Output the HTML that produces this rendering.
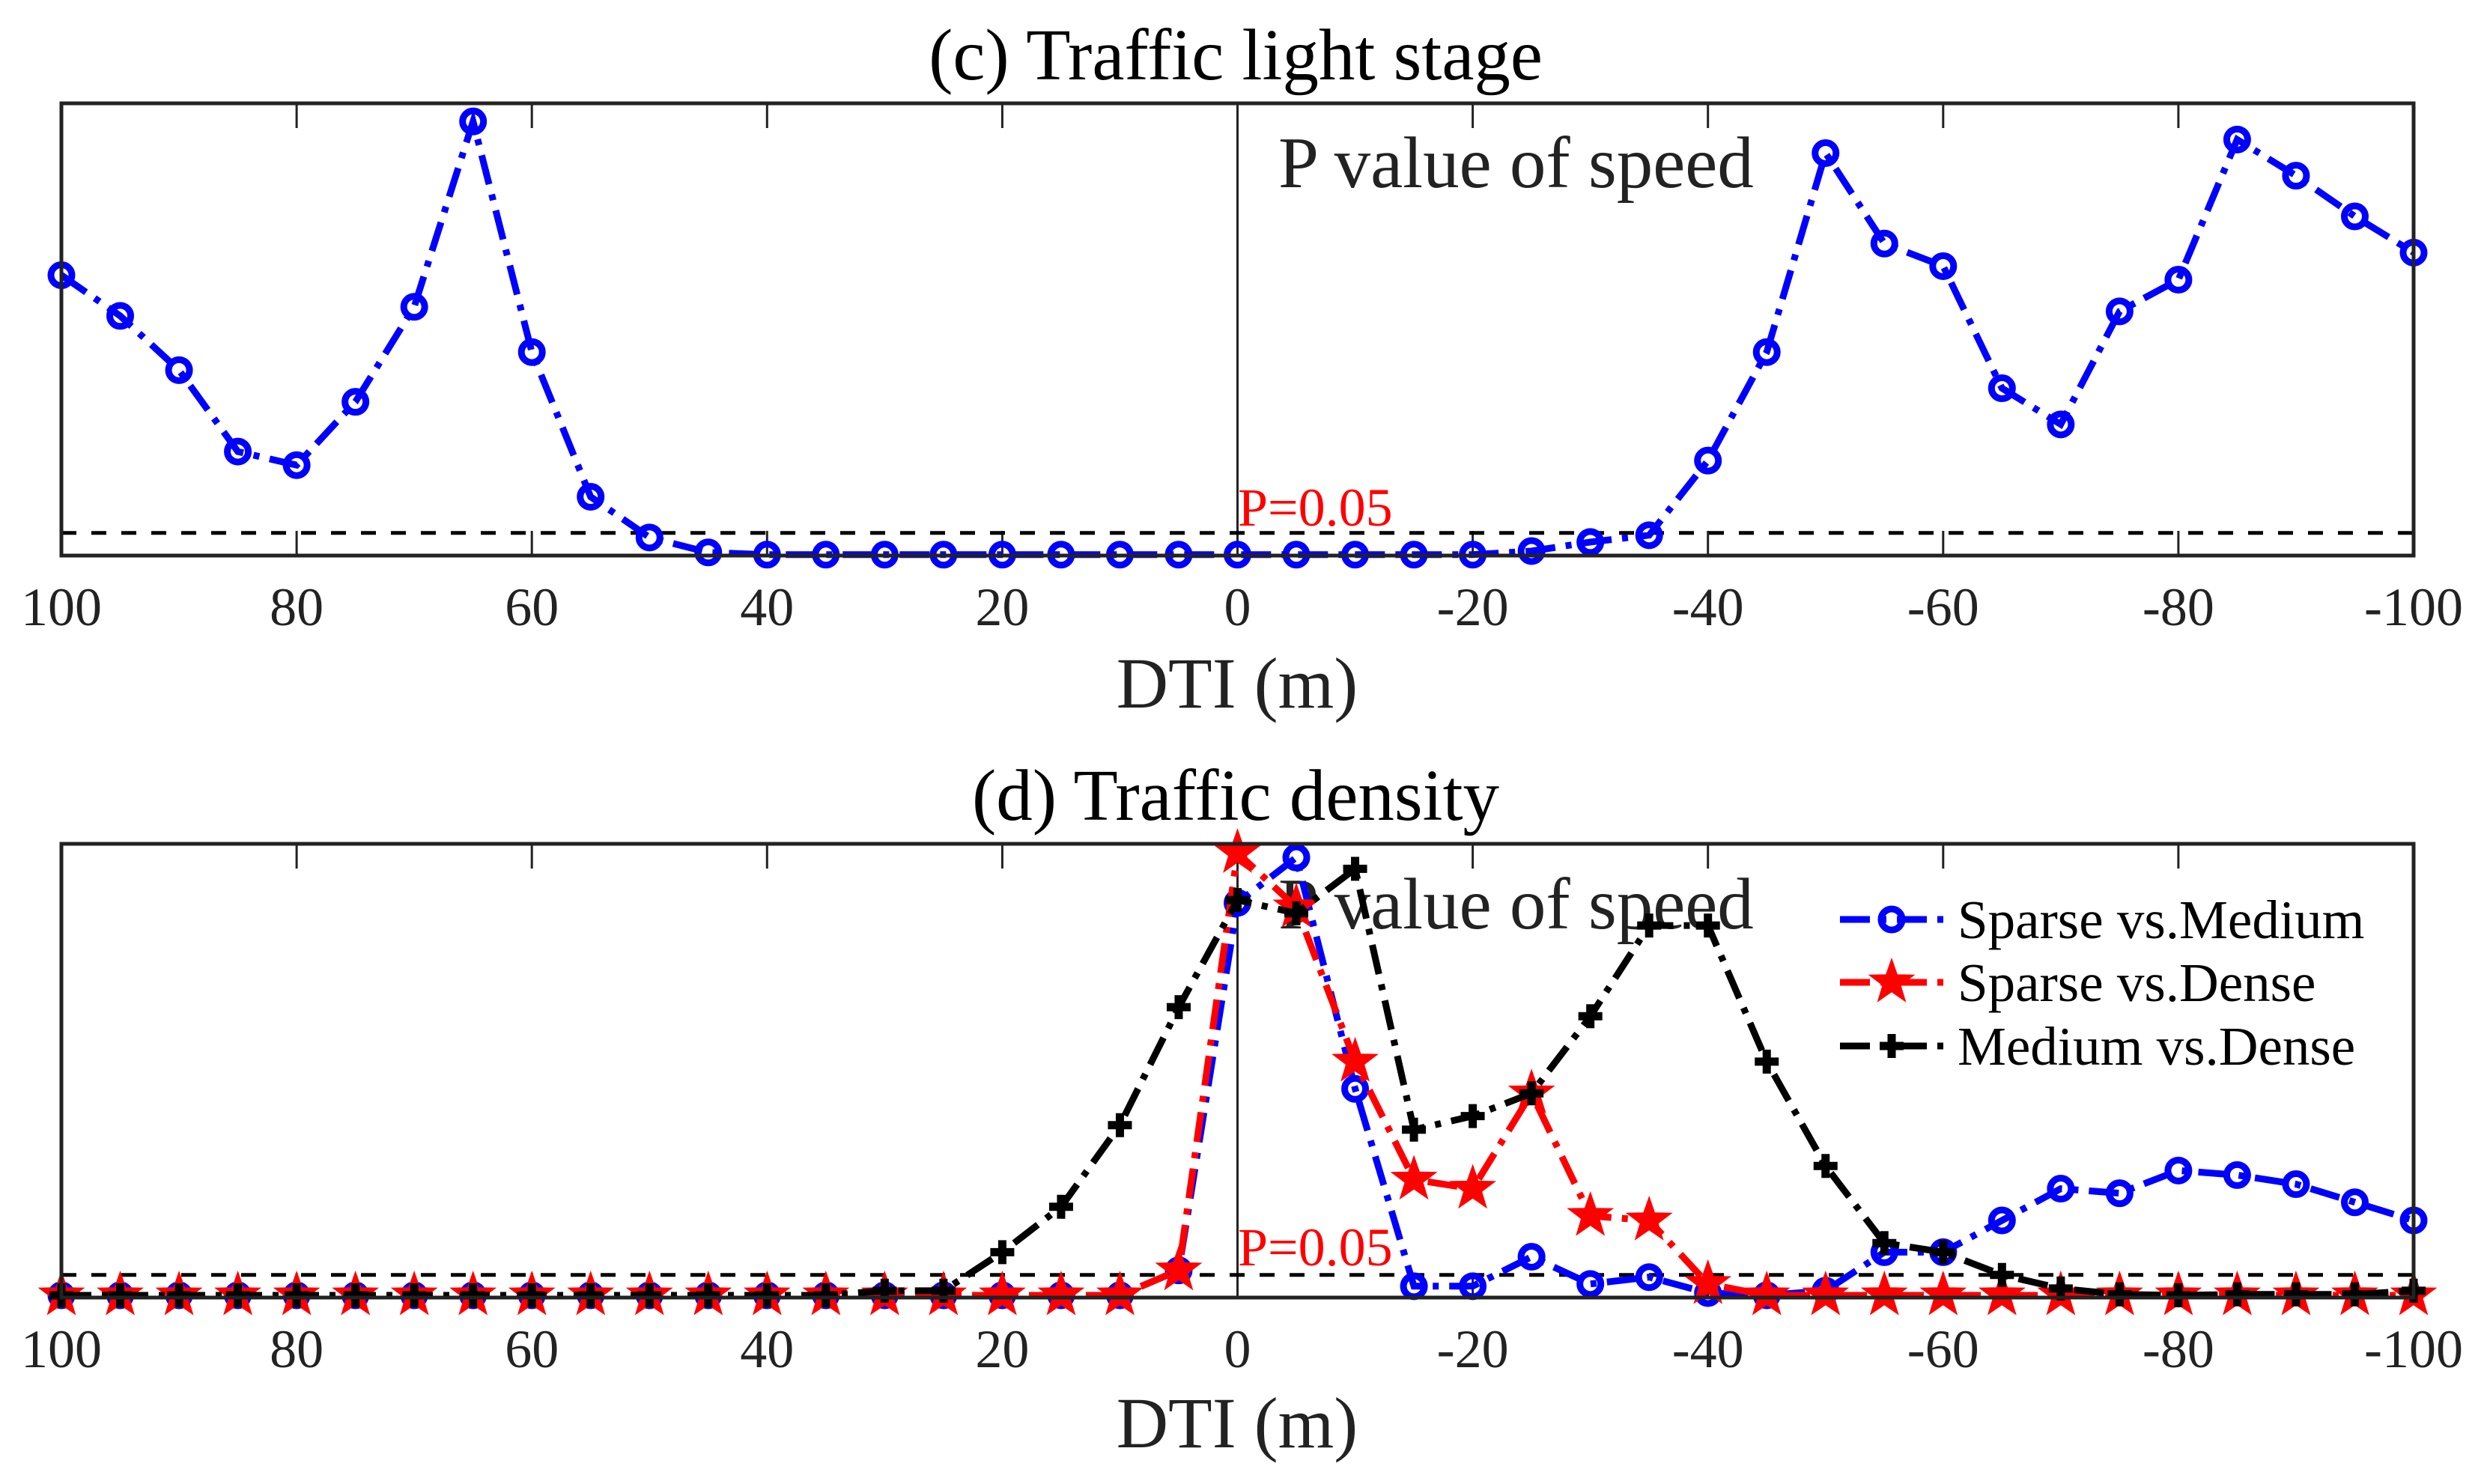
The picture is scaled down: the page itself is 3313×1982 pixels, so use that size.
<!DOCTYPE html>
<html><head><meta charset="utf-8"><style>
html,body{margin:0;padding:0;background:#fff;}
svg{display:block;font-family:"Liberation Serif",serif;}
</style></head><body>
<svg id="fig" width="3313" height="1982" viewBox="0 0 3313 1982" xmlns="http://www.w3.org/2000/svg"></svg>
<script>
const xCats = [100,95,90,85,80,75,70,65,60,55,50,45,40,35,30,25,20,15,10,5,0,-5,-10,-15,-20,-25,-30,-35,-40,-45,-50,-55,-60,-65,-70,-75,-80,-85,-90,-95,-100];
const xTicks = [100,80,60,40,20,0,-20,-40,-60,-80,-100];
const xTickLabels = ["100","80","60","40","20","0","-20","-40","-60","-80","-100"];
const pThreshold = 0.05;
const lightSpeedP = [0.62,0.53,0.41,0.23,0.20,0.34,0.55,0.96,0.45,0.13,0.04,0.007,0.002,0.002,0.002,0.002,0.002,0.002,0.002,0.002,0.002,0.002,0.002,0.002,0.002,0.01,0.03,0.045,0.21,0.45,0.89,0.69,0.64,0.37,0.29,0.54,0.61,0.92,0.84,0.75,0.67];
const sparseMedium = [0.005,0.005,0.005,0.005,0.005,0.005,0.005,0.005,0.005,0.005,0.005,0.005,0.005,0.005,0.005,0.005,0.005,0.005,0.005,0.06,0.87,0.97,0.46,0.025,0.025,0.09,0.03,0.045,0.01,0.005,0.015,0.10,0.10,0.17,0.24,0.23,0.28,0.27,0.25,0.21,0.17];
const sparseDense = [0.005,0.005,0.005,0.005,0.005,0.005,0.005,0.005,0.005,0.005,0.005,0.005,0.005,0.005,0.005,0.005,0.005,0.005,0.005,0.06,0.98,0.86,0.52,0.26,0.24,0.45,0.18,0.17,0.03,0.005,0.005,0.005,0.005,0.005,0.005,0.005,0.005,0.005,0.005,0.005,0.005];
const mediumDense = [0.005,0.005,0.005,0.005,0.005,0.005,0.005,0.005,0.005,0.005,0.005,0.005,0.005,0.005,0.015,0.015,0.10,0.20,0.38,0.64,0.876,0.847,0.945,0.37,0.40,0.45,0.62,0.82,0.82,0.52,0.29,0.12,0.10,0.05,0.02,0.007,0.005,0.007,0.007,0.007,0.015];
const legendLabels = ["Sparse vs.Medium","Sparse vs.Dense","Medium vs.Dense"];

const NS="http://www.w3.org/2000/svg";
const svg=document.getElementById('fig');
function mk(tag,attrs,parent){const e=document.createElementNS(NS,tag);for(const k in attrs)e.setAttribute(k,attrs[k]);(parent||svg).appendChild(e);return e;}
const L=82,R=3223;
function xs(v){return L+(100-v)/200*(R-L);}
function makeY(top,bot){return v=>bot-v*(bot-top);}
const DASH="40 14 8 14";

function marker(type,x,y,color,g){
  let e;
  if(type==='o'){e=mk('circle',{cx:x,cy:y,r:14,fill:'none',stroke:color,'stroke-width':9},g);}
  else if(type==='*'){
    let p=[];for(let i=0;i<10;i++){const a=-Math.PI/2+i*Math.PI/5;const r=i%2?12:30;p.push((x+r*Math.cos(a)).toFixed(1)+','+(y+r*Math.sin(a)).toFixed(1));}
    e=mk('polygon',{points:p.join(' '),fill:color,stroke:color,'stroke-width':2},g);
  } else {
    e=mk('path',{d:`M${x-16},${y}H${x+16}M${x},${y-16}V${y+16}`,stroke:color,'stroke-width':11,fill:'none'},g);
  }
  return e;
}
function series(vals,ys,color,type,name,g){
  const sg=mk('g',{},g);
  
  
  const d=vals.map((v,i)=>(i?'L':'M')+xs(xCats[i]).toFixed(1)+','+ys(v).toFixed(1)).join('');
  mk('path',{d:d,fill:'none',stroke:color,'stroke-width':9,'stroke-dasharray':DASH},sg);
  vals.forEach((v,i)=>{const m=marker(type,xs(xCats[i]),ys(v),color,sg);
    
    });
}
function axes(top,bot,title,titleY,tickY,labelY,pTextY,g){
  const ys=makeY(top,bot);
  const t=mk('text',{x:1650,y:titleY,'font-size':97,'text-anchor':'middle',fill:'#000'},g);t.textContent=title;
  
  
  mk('line',{x1:xs(0),y1:top,x2:xs(0),y2:bot,stroke:'#222','stroke-width':3},g);
  xTicks.forEach((v,i)=>{
    const x=xs(v);
    if(v!==100&&v!==-100&&v!==0){
      mk('line',{x1:x,y1:top,x2:x,y2:top+33,stroke:'#222','stroke-width':3},g);
      mk('line',{x1:x,y1:bot,x2:x,y2:bot-33,stroke:'#222','stroke-width':3},g);
    }
    const tl=mk('text',{x:x,y:tickY,'font-size':72,'text-anchor':'middle',fill:'#222'},g);tl.textContent=xTickLabels[i];
    
    
  });
  const xl=mk('text',{x:1652,y:labelY,'font-size':96,'text-anchor':'middle',fill:'#222'},g);xl.textContent='DTI (m)';
  
  
  const th=mk('line',{x1:L,y1:ys(pThreshold),x2:R,y2:ys(pThreshold),stroke:'#000','stroke-width':5,'stroke-dasharray':'20 20'},g);
  
  
  const pt=mk('text',{x:1653,y:pTextY,'font-size':72,fill:'#f00'},g);pt.textContent='P=0.05';
  
  
  return ys;
}
function frame(top,bot,g){
  const b=mk('rect',{x:L,y:top,width:R-L,height:bot-top,fill:'none',stroke:'#222','stroke-width':5},g);
  
  
}
const gc=mk('g',{});


const yc=axes(138,742,'(c) Traffic light stage',106,835,945,702,gc);
const pv1=mk('text',{x:1707,y:250,'font-size':97,fill:'#222'},gc);pv1.textContent='P value of speed';


series(lightSpeedP,yc,'#0000ff','o','traffic-light-series',gc);
frame(138,742,gc);
const gd=mk('g',{});


const yd=axes(1127,1733,'(d) Traffic density',1095,1826,1933,1690,gd);
const pv2=mk('text',{x:1707,y:1240,'font-size':97,fill:'#222'},gd);pv2.textContent='P value of speed';


series(sparseMedium,yd,'#0000ff','o','sparse-vs-medium',gd);
series(sparseDense,yd,'#ff0000','*','sparse-vs-dense',gd);
series(mediumDense,yd,'#000000','+','medium-vs-dense',gd);
frame(1127,1733,gd);
const lg=mk('g',{},gd);


const lc=['#0000ff','#ff0000','#000000'],lt=['o','*','+'],lyArr=[1228,1312,1397];
legendLabels.forEach((s,i)=>{
  const eg=mk('g',{},lg);
  
  
  const y=lyArr[i];
  mk('line',{x1:2457,y1:y,x2:2595,y2:y,stroke:lc[i],'stroke-width':9,'stroke-dasharray':DASH},eg);
  marker(lt[i],2526,y,lc[i],eg);
  const t=mk('text',{x:2614,y:y+25,'font-size':73,fill:'#000'},eg);t.textContent=s;
});
</script>
</body></html>
